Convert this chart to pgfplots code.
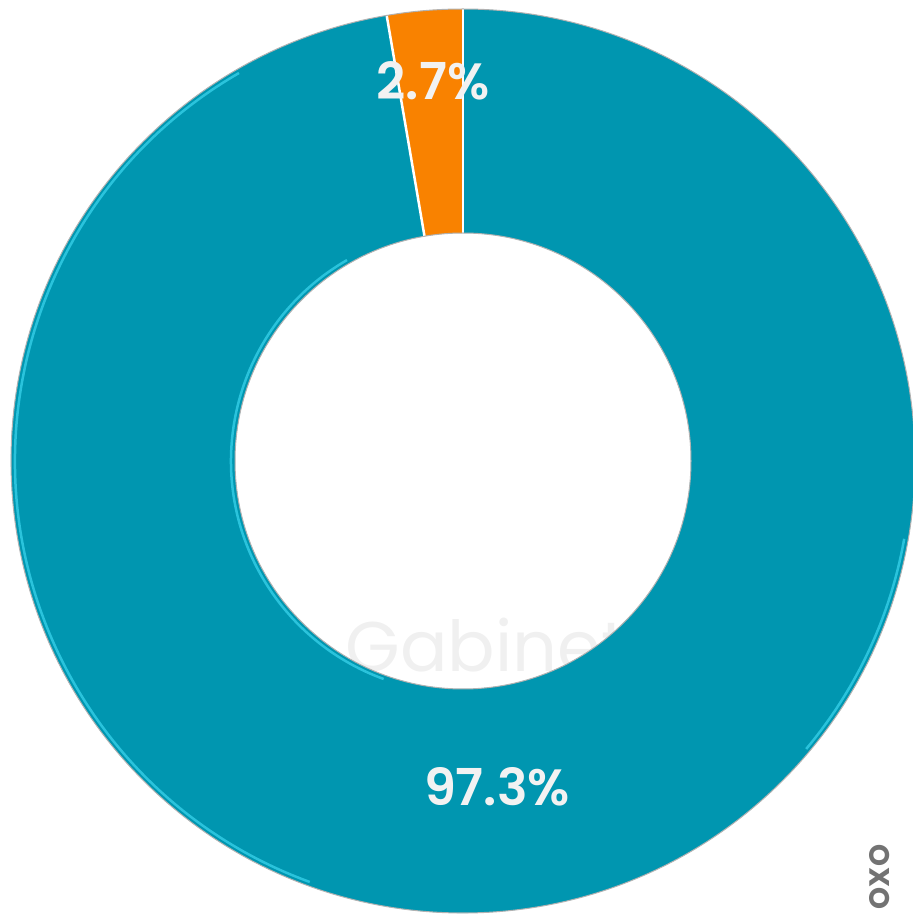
\documentclass[border=0pt]{standalone}
\usepackage{pgfplots}
\pgfplotsset{compat=1.18}
\usepackage{pgfplotstable}
\usepackage{fontspec}
\setmainfont{Poppins}
\newfontfamily\popsb{Poppins SemiBold}
\definecolor{teal1}{RGB}{0,150,176}
\definecolor{orange1}{RGB}{249,130,0}
\definecolor{hilite}{RGB}{60,215,240}
\definecolor{lbl}{RGB}{242,242,242}
\definecolor{wm}{RGB}{240,240,240}
\pgfplotstableread{
label value
Otro 2.7
Principal 97.3
}\donutdata
\begin{document}
\begin{tikzpicture}
\useasboundingbox (0,0) rectangle (9.13cm,9.17cm);
\clip (0,0) rectangle (9.13cm,9.17cm);
\pgfplotstablegetelem{0}{value}\of\donutdata \let\va\pgfplotsretval
\pgfplotstablegetelem{1}{value}\of\donutdata \let\vb\pgfplotsretval
\pgfmathsetmacro{\aS}{90}
\pgfmathsetmacro{\aM}{90+3.6*\va}
\pgfmathsetmacro{\aE}{\aM+3.6*\vb}
\def\cx{463}\def\cy{456}\def\Ro{452}\def\Ri{228}
\begin{axis}[x=0.1mm,y=0.1mm,xmin=0,xmax=913,ymin=0,ymax=917,
  hide axis,enlargelimits=false,scale only axis,at={(0,0)},anchor=south west]
% faint watermark
\node[text=wm,font=\fontsize{20}{20}\selectfont,anchor=west] at (axis cs:333,272) {Gabinete};
\node[text=black!55,font=\fontsize{8}{8}\selectfont\bfseries,rotate=90] at (axis cs:880,40) {OXO};
% teal segment
\fill[teal1] (axis cs:{\cx+\Ro*cos(\aM)},{\cy+\Ro*sin(\aM)}) arc[start angle=\aM,end angle=\aE,radius=45.2mm]
  -- (axis cs:{\cx+\Ri*cos(\aE)},{\cy+\Ri*sin(\aE)}) arc[start angle=\aE,end angle=\aM,radius=22.8mm] -- cycle;
% orange segment
\fill[orange1] (axis cs:{\cx+\Ro*cos(\aS)},{\cy+\Ro*sin(\aS)}) arc[start angle=\aS,end angle=\aM,radius=45.2mm]
  -- (axis cs:{\cx+\Ri*cos(\aM)},{\cy+\Ri*sin(\aM)}) arc[start angle=\aM,end angle=\aS,radius=22.8mm] -- cycle;
% highlights
\draw[hilite,line width=0.25mm,opacity=0.7] (axis cs:{\cx+448*cos(120)},{\cy+448*sin(120)}) arc[start angle=120,end angle=250,radius=44.8mm];
\draw[hilite,line width=0.25mm,opacity=0.7] (axis cs:{\cx+448*cos(-40)},{\cy+448*sin(-40)}) arc[start angle=-40,end angle=-10,radius=44.8mm];
\draw[hilite,line width=0.25mm,opacity=0.7] (axis cs:{\cx+232*cos(120)},{\cy+232*sin(120)}) arc[start angle=120,end angle=250,radius=23.2mm];
% separators
\draw[white,line width=0.25mm] (axis cs:{\cx+\Ri*cos(\aS)},{\cy+\Ri*sin(\aS)}) -- (axis cs:{\cx+\Ro*cos(\aS)},{\cy+\Ro*sin(\aS)});
\draw[white,line width=0.25mm] (axis cs:{\cx+\Ri*cos(\aM)},{\cy+\Ri*sin(\aM)}) -- (axis cs:{\cx+\Ro*cos(\aM)},{\cy+\Ro*sin(\aM)});
% borders
\draw[black!30,line width=0.1mm] (axis cs:{\cx+\Ro},\cy) arc[start angle=0,end angle=360,radius=45.2mm];
\draw[black!30,line width=0.1mm] (axis cs:{\cx+\Ri},\cy) arc[start angle=0,end angle=360,radius=22.8mm];
% labels
\node[text=lbl,font=\fontsize{14.5}{14.5}\selectfont\popsb] at (axis cs:433,836) {\va\%};
\node[text=lbl,font=\fontsize{14.5}{14.5}\selectfont\popsb] at (axis cs:497,130) {\vb\%};
\end{axis}
\end{tikzpicture}
\end{document}
